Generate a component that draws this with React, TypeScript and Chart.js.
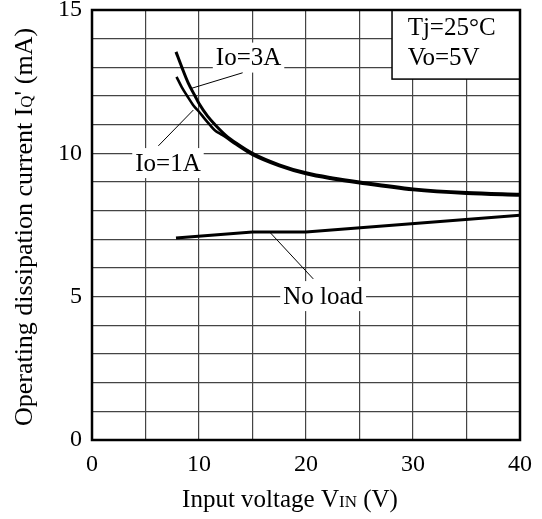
import React, { useEffect, useRef } from "react";
import { Chart, registerables } from "chart.js";

Chart.register(...registerables);

// Data (V_IN in volts, I_Q' in mA)
const V_IO3A = [7.85, 8.4, 9.0, 9.63, 10.0, 10.8, 11.5, 12.5, 13.5, 15, 17.5, 20, 22.5, 25, 30, 35, 40];
const I_IO3A = [13.54, 13.0, 12.45, 12.0, 11.74, 11.3, 11.0, 10.63, 10.35, 10.0, 9.6, 9.32, 9.14, 9.0, 8.76, 8.63, 8.57];

const V_IO1A = [7.9, 8.4, 8.9, 9.5, 10.0, 10.5, 11.0, 11.5, 12.0, 12.5, 13.5, 15, 17.5, 20, 22.5, 25, 30, 35, 40];
const I_IO1A = [12.67, 12.3, 12.0, 11.66, 11.45, 11.22, 11.0, 10.8, 10.68, 10.56, 10.3, 9.95, 9.56, 9.28, 9.1, 8.96, 8.72, 8.59, 8.53];

const V_NOLOAD = [7.85, 15, 20, 40];
const I_NOLOAD = [7.05, 7.26, 7.26, 7.84];

const X_MIN = 0, X_MAX = 40, X_STEP = 5, X_LABEL_EVERY = 10;
const Y_MIN = 0, Y_MAX = 15, Y_STEP = 1, Y_LABEL_EVERY = 5;

// Annotation texts and anchors (data units)
const LABEL_TEXT = ["Io=3A", "Io=1A", "No load"];
const LABEL_V = [14.63, 7.1, 21.6];
const LABEL_I = [13.34, 9.66, 5.02];
const LEADER_FROM_V = [14.08, 9.47, 16.64];
const LEADER_FROM_I = [12.81, 11.51, 7.24];
const LEADER_TO_V = [9.32, 6.2, 20.68];
const LEADER_TO_I = [12.27, 10.26, 5.62];

const COND_LINES = ["Tj=25\u00B0C", "Vo=5V"];
const COND_BOX_V = [28.04, 40];
const COND_BOX_I = [15, 12.59];
const COND_TEXT_V = 29.5;
const COND_TEXT_I = [14.35, 13.3];

const FONT = "'Liberation Serif', 'Times New Roman', serif";

const toPts = (xs: number[], ys: number[]) => xs.map((v, i) => ({ x: v, y: ys[i] }));

function drawSegments(ctx: CanvasRenderingContext2D, segs: [string, number][], cx: number, baseY: number) {
  let total = 0;
  for (const [t, s] of segs) {
    ctx.font = `${s}px ${FONT}`;
    total += ctx.measureText(t).width;
  }
  let x = cx - total / 2;
  ctx.textAlign = "left";
  ctx.textBaseline = "alphabetic";
  for (const [t, s] of segs) {
    ctx.font = `${s}px ${FONT}`;
    ctx.fillText(t, x, baseY);
    x += ctx.measureText(t).width;
  }
}

const overlayPlugin = {
  id: "overlay",
  afterDatasetsDraw(chart: any) {
    const { ctx, chartArea, scales } = chart;
    const xs = scales.x, ys = scales.y;
    const px = (v: number) => xs.getPixelForValue(v);
    const py = (v: number) => ys.getPixelForValue(v);
    ctx.save();

    // condition box
    const bx0 = px(COND_BOX_V[0]), bx1 = px(COND_BOX_V[1]);
    const by0 = py(COND_BOX_I[0]), by1 = py(COND_BOX_I[1]);
    ctx.fillStyle = "#fff";
    ctx.fillRect(bx0, by0, bx1 - bx0, by1 - by0);
    ctx.strokeStyle = "#000";
    ctx.lineWidth = 1.5;
    ctx.strokeRect(bx0, by0, bx1 - bx0, by1 - by0);
    ctx.fillStyle = "#000";
    ctx.font = `25px ${FONT}`;
    ctx.textAlign = "left";
    ctx.textBaseline = "middle";
    COND_LINES.forEach((t, i) => ctx.fillText(t, px(COND_TEXT_V), py(COND_TEXT_I[i])));

    // labels with white backgrounds
    ctx.font = `25px ${FONT}`;
    LABEL_TEXT.forEach((t, i) => {
      const w = ctx.measureText(t).width + 6;
      const h = 30;
      const cx = px(LABEL_V[i]), cy = py(LABEL_I[i]);
      ctx.fillStyle = "#fff";
      ctx.fillRect(cx - w / 2, cy - h / 2, w, h);
      ctx.fillStyle = "#000";
      ctx.textAlign = "center";
      ctx.textBaseline = "middle";
      ctx.fillText(t, cx, cy + 1);
    });

    // leader lines
    ctx.strokeStyle = "#000";
    ctx.lineWidth = 1;
    LABEL_TEXT.forEach((_, i) => {
      ctx.beginPath();
      ctx.moveTo(px(LEADER_FROM_V[i]), py(LEADER_FROM_I[i]));
      ctx.lineTo(px(LEADER_TO_V[i]), py(LEADER_TO_I[i]));
      ctx.stroke();
    });

    // plot frame
    ctx.lineWidth = 2.5;
    ctx.strokeRect(chartArea.left, chartArea.top, chartArea.right - chartArea.left, chartArea.bottom - chartArea.top);

    // axis titles
    ctx.fillStyle = "#000";
    drawSegments(ctx, [["Input voltage V", 25], ["IN", 17], [" (V)", 25]], (chartArea.left + chartArea.right) / 2 - 16, chartArea.bottom + 67);

    ctx.save();
    ctx.translate(chartArea.left - 60, (chartArea.top + chartArea.bottom) / 2 + 2);
    ctx.rotate(-Math.PI / 2);
    drawSegments(ctx, [["Operating dissipation current I", 26], ["Q", 17], ["' (mA)", 26]], 0, 0);
    ctx.restore();

    ctx.restore();
  },
};

export default function App() {
  const ref = useRef<HTMLCanvasElement | null>(null);
  useEffect(() => {
    if (!ref.current) return;
    const chart = new Chart(ref.current, {
      type: "scatter",
      data: {
        datasets: [
          {
            label: "Io=3A",
            data: toPts(V_IO3A, I_IO3A),
            showLine: true,
            borderColor: "#000",
            borderWidth: 3,
            pointRadius: 0,
            cubicInterpolationMode: "monotone",
          },
          {
            label: "Io=1A",
            data: toPts(V_IO1A, I_IO1A),
            showLine: true,
            borderColor: "#000",
            borderWidth: 2.6,
            pointRadius: 0,
            cubicInterpolationMode: "monotone",
          },
          {
            label: "No load",
            data: toPts(V_NOLOAD, I_NOLOAD),
            showLine: true,
            borderColor: "#000",
            borderWidth: 3,
            pointRadius: 0,
            tension: 0,
          },
        ],
      },
      options: {
        animation: false,
        responsive: true,
        maintainAspectRatio: false,
        layout: { padding: { left: 0, top: 10, right: 22, bottom: 0 } },
        plugins: { legend: { display: false }, tooltip: { enabled: false } },
        scales: {
          x: {
            type: "linear",
            min: X_MIN,
            max: X_MAX,
            afterFit: (s: any) => { s.height = 79; s.paddingLeft = 0; s.paddingRight = 0; },
            ticks: {
              stepSize: X_STEP,
              padding: 10,
              color: "#000",
              maxRotation: 0,
              autoSkip: false,
              font: { family: FONT, size: 24 },
              callback: (v: any) => (Number(v) % X_LABEL_EVERY === 0 ? String(v) : ""),
            },
            grid: { color: "#444", lineWidth: 1.2, drawTicks: false },
            border: { display: false },
          },
          y: {
            type: "linear",
            min: Y_MIN,
            max: Y_MAX,
            afterFit: (s: any) => { s.width = 92; s.paddingTop = 0; s.paddingBottom = 0; },
            ticks: {
              stepSize: Y_STEP,
              padding: 10,
              color: "#000",
              autoSkip: false,
              font: { family: FONT, size: 24 },
              callback: (v: any) => (Number(v) % Y_LABEL_EVERY === 0 ? String(v) : ""),
            },
            grid: { color: "#444", lineWidth: 1.2, drawTicks: false },
            border: { display: false },
          },
        },
      },
      plugins: [overlayPlugin],
    } as any);
    return () => chart.destroy();
  }, []);
  return (
    <div style={{ position: "fixed", left: 0, top: 0, width: 542, height: 519, background: "#fff" }}>
      <canvas ref={ref} />
    </div>
  );
}
